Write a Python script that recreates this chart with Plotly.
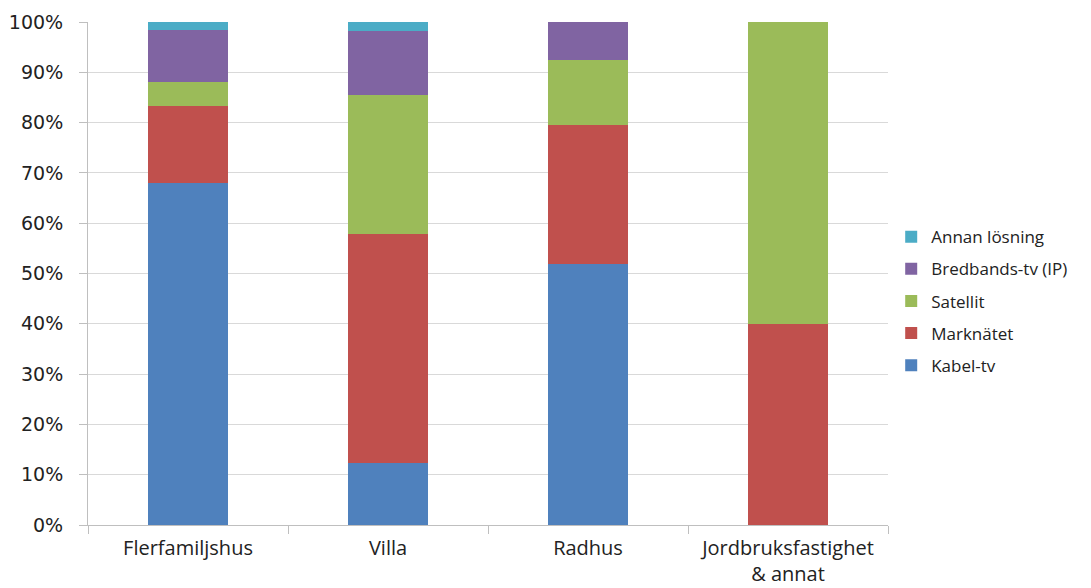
import plotly.graph_objects as go

categories = ["Flerfamiljshus", "Villa", "Radhus", "Jordbruksfastighet<br>& annat"]
kabel_tv = [67.9, 12.3, 51.9, 0.0]
marknatet = [15.5, 45.6, 27.7, 40.0]
satellit = [4.6, 27.5, 12.8, 60.0]
bredband = [10.5, 12.9, 7.6, 0.0]
annan = [1.5, 1.7, 0.0, 0.0]

series = [
    ("Kabel-tv", kabel_tv, "#4F81BD"),
    ("Marknätet", marknatet, "#C0504D"),
    ("Satellit", satellit, "#9BBB59"),
    ("Bredbands-tv (IP)", bredband, "#8064A2"),
    ("Annan lösning", annan, "#4BACC6"),
]

fig = go.Figure()
n = len(series)
for i, (name, vals, color) in enumerate(series):
    fig.add_trace(go.Bar(
        x=categories, y=vals, name=name, legendgroup=name,
        legendrank=n - i,
        marker=dict(color=color, line=dict(width=0)),
        width=0.4,
    ))

fig.update_layout(
    barmode="stack",
    width=1083, height=580,
    margin=dict(l=80, r=203, t=14, b=63),
    plot_bgcolor="white", paper_bgcolor="white",
    font=dict(family="Open Sans, sans-serif", size=17, color="#222222"),
    showlegend=True,
    legend=dict(
        traceorder="grouped", x=1.004, xanchor="left", y=0.608, yanchor="top",
        font=dict(family="Open Sans, sans-serif", size=17, color="#222222"),
        tracegroupgap=7, itemwidth=30,
    ),
    xaxis=dict(
        showline=True, linecolor="#BFBFBF", linewidth=1,
        ticks="outside", tickson="boundaries", ticklen=8, tickcolor="#BFBFBF",
        ticklabelstandoff=5,
        tickfont=dict(family="Open Sans, sans-serif", size=20, color="#222222"),
        automargin=False,
    ),
    yaxis=dict(
        range=[0, 100], dtick=10, ticksuffix="%",
        showgrid=True, gridcolor="#D9D9D9", gridwidth=1,
        showline=True, linecolor="#BFBFBF", linewidth=1,
        ticks="outside", ticklen=8, tickcolor="#BFBFBF",
        ticklabelstandoff=12,
        tickfont=dict(family="DejaVu Sans, Verdana, sans-serif", size=19, color="#222222"),
        zeroline=False, automargin=False,
    ),
)

fig.write_html("out.html")
